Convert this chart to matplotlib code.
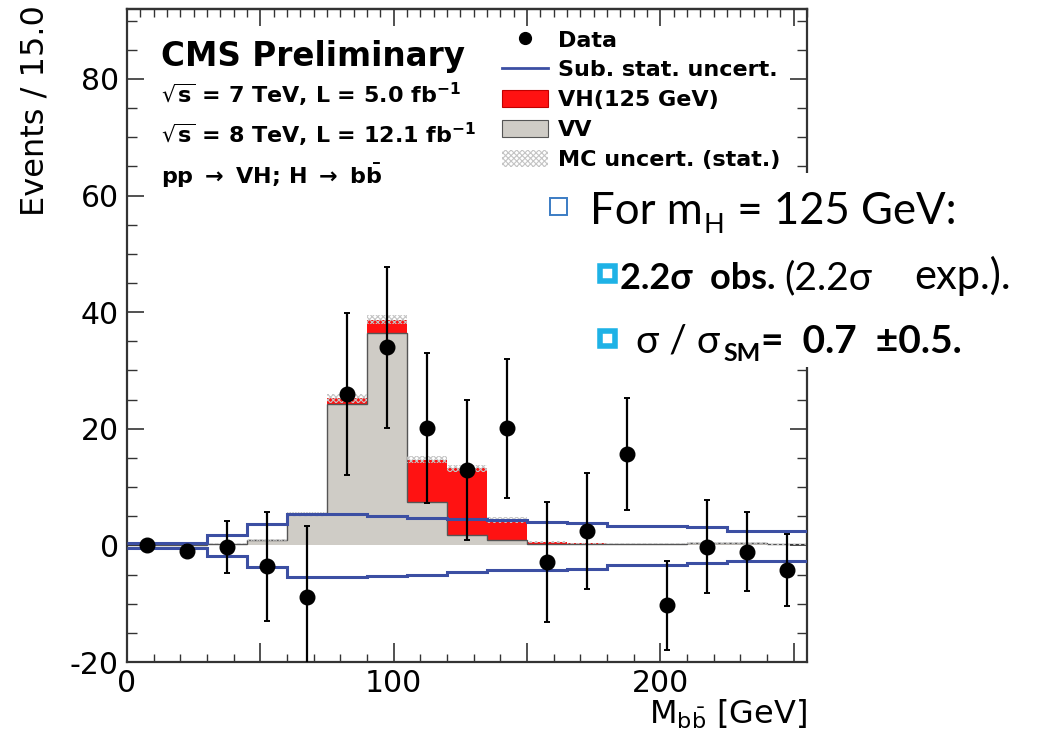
import numpy as np
import matplotlib
matplotlib.use("Agg")
import matplotlib.pyplot as plt
from matplotlib.patches import Rectangle, Patch
from matplotlib.lines import Line2D
from matplotlib.ticker import MultipleLocator, FuncFormatter

# ---------------- data ----------------
bin_edges = [0, 15, 30, 45, 60, 75, 90, 105, 120, 135, 150, 165, 180, 195, 210, 225, 240, 255]
data_vals = [0.0, -0.9, -0.3, -3.6, -8.9, 25.9, 34.0, 20.1, 12.9, 20.1, -2.9, 2.5, 15.7, -10.3, -0.2, -1.1, -4.2]
data_errs = [0.9, 0.9, 4.5, 9.3, 12.3, 13.9, 13.8, 12.9, 12.0, 11.9, 10.3, 10.0, 9.6, 7.7, 8.0, 6.8, 6.2]
vv_vals = [0.0, 0.0, 0.3, 0.9, 5.3, 24.3, 36.4, 7.4, 1.7, 0.9, 0.3, 0.3, 0.3, 0.3, 0.4, 0.4, 0.2]
vh_vals = [0.0, 0.0, 0.0, 0.0, 0.0, 0.9, 2.3, 7.3, 11.5, 3.4, 0.3, 0.05, 0.0, 0.0, 0.0, 0.0, 0.0]
mc_unc = [0.0, 0.0, 0.1, 0.2, 0.4, 0.7, 0.8, 0.6, 0.6, 0.5, 0.2, 0.1, 0.1, 0.1, 0.1, 0.1, 0.1]
sub_up = [0.4, 0.4, 1.8, 3.6, 5.4, 5.4, 5.1, 4.7, 4.5, 4.3, 4.0, 3.8, 3.3, 3.3, 3.1, 2.5, 2.5]
sub_dn = [-0.4, -0.4, -1.9, -3.7, -5.4, -5.4, -5.3, -5.0, -4.6, -4.3, -4.3, -4.0, -3.4, -3.4, -3.0, -2.6, -2.6]

legend_labels = ["Data", "Sub. stat. uncert.", "VH(125 GeV)", "VV", "MC uncert. (stat.)"]
y_ticks_major = 20

# ---------------- style ----------------
plt.rcParams["font.family"] = ["DejaVu Sans"]
plt.rcParams["mathtext.default"] = "regular"
plt.rcParams["mathtext.fontset"] = "dejavusans"
plt.rcParams["hatch.color"] = "#c4c4c4"
plt.rcParams["hatch.linewidth"] = 0.8

W, H = 1060, 749
fig = plt.figure(figsize=(W / 100, H / 100), dpi=100)
fig.patch.set_facecolor("white")

def fx(px):
    return px / W

def fy(py):
    return 1 - py / H

BLUE = "#3c4fa3"
RED = "#ff1212"
GRAY = "#cfccc6"

ax = fig.add_axes([fx(127), fy(662), fx(807) - fx(127), fy(9) - fy(662)])

edges = np.array(bin_edges, dtype=float)
vv = np.array(vv_vals)
vh = np.array(vh_vals)
total = vv + vh
mc = np.array(mc_unc)
centers = 0.5 * (edges[:-1] + edges[1:])

ax.stairs(vv, edges, baseline=0, fill=True, facecolor=GRAY, edgecolor="none", zorder=1)
ax.stairs(total, edges, baseline=vv, fill=True, facecolor=RED, edgecolor="none", zorder=1.2)
ax.stairs(vv, edges, baseline=0, fill=False, edgecolor="#555555", linewidth=1.0, zorder=1.5)
ax.stairs(total + mc, edges, baseline=total - mc, fill=True, facecolor="none",
          edgecolor="#c4c4c4", hatch="xxxxxx", linewidth=0, zorder=1.6)

ax.stairs(sub_up, edges, baseline=None, color=BLUE, linewidth=2.2, zorder=3)
ax.stairs(sub_dn, edges, baseline=None, color=BLUE, linewidth=2.2, zorder=3)

ax.errorbar(centers, data_vals, yerr=data_errs, fmt="o", color="black", ms=10.5,
            elinewidth=1.6, capsize=2.2, capthick=1.4, zorder=4)

ax.set_xlim(0, 255)
ax.set_ylim(-20, 92)

ax.yaxis.set_major_locator(MultipleLocator(y_ticks_major))
ax.yaxis.set_minor_locator(MultipleLocator(5))
ax.xaxis.set_major_locator(MultipleLocator(50))
ax.xaxis.set_minor_locator(MultipleLocator(10))
ax.xaxis.set_major_formatter(FuncFormatter(lambda v, p: f"{int(round(v))}" if round(v) % 100 == 0 else ""))
ax.yaxis.set_major_formatter(FuncFormatter(lambda v, p: f"{int(round(v))}"))

ax.tick_params(axis="both", which="both", direction="in", top=False, right=True, colors="#333333")
ax.tick_params(axis="x", which="major", length=13.5, width=1.2, labelsize=21.5, pad=5, labelcolor="black")
ax.tick_params(axis="x", which="minor", length=6, width=1.0)
ax.tick_params(axis="y", which="major", length=12, width=1.2, labelsize=21.5, pad=6, labelcolor="black")
ax.tick_params(axis="y", which="minor", length=7, width=1.0)
for sp in ax.spines.values():
    sp.set_linewidth(1.6)
    sp.set_color("#333333")

sec = ax.secondary_xaxis("top")
sec.xaxis.set_major_locator(MultipleLocator(50))
sec.xaxis.set_minor_locator(MultipleLocator(5))
sec.tick_params(which="both", direction="in", labeltop=False, colors="#333333")
sec.tick_params(which="major", length=12, width=1.2)
sec.tick_params(which="minor", length=6, width=1.0)
sec.spines["top"].set_linewidth(1.6)
sec.spines["top"].set_color("#333333")

ax.set_ylabel("Events / 15.0", fontsize=23, loc="top")
ax.yaxis.set_label_coords(-0.113, 1.006)
ax.set_xlabel(r"M$_{b\bar{b}}$ [GeV]", fontsize=23, loc="right")
ax.xaxis.set_label_coords(1.0, -0.055)

# legend
handles = [
    Line2D([], [], marker="o", ls="none", color="black", ms=8.5),
    Line2D([], [], color=BLUE, lw=2.0),
    Patch(facecolor=RED, edgecolor="#c00000", lw=0.8),
    Patch(facecolor=GRAY, edgecolor="#555555", lw=0.8),
    Patch(facecolor="white", edgecolor="#c4c4c4", hatch="xxxxxx", lw=0),
]
ax.legend(handles, legend_labels, loc="upper left", bbox_to_anchor=(fx(502), fy(30)),
          bbox_transform=fig.transFigure, frameon=False,
          prop=dict(family="DejaVu Sans", weight="bold", size=16),
          handlelength=2.05, handleheight=0.85, handletextpad=0.45,
          labelspacing=0.42, borderpad=0, borderaxespad=0)

# CMS annotations
fig.text(fx(161), fy(66), "CMS Preliminary", fontsize=23.5, weight="bold", va="baseline")
fig.text(fx(161), fy(103), r"$\sqrt{\mathbf{s}}$ = 7 TeV, L = 5.0 fb$^{\mathbf{-1}}$",
         fontsize=16, weight="bold", va="baseline")
fig.text(fx(161), fy(143), r"$\sqrt{\mathbf{s}}$ = 8 TeV, L = 12.1 fb$^{\mathbf{-1}}$",
         fontsize=16, weight="bold", va="baseline")
fig.text(fx(161), fy(184), r"pp $\rightarrow$ VH; H $\rightarrow$ b$\bar{\mathbf{b}}$",
         fontsize=16, weight="bold", va="baseline")

# ---------------- slide overlay ----------------
fig.add_artist(Rectangle((fx(540), fy(367)), fx(1060) - fx(540), fy(173) - fy(367),
                         transform=fig.transFigure, facecolor="white", edgecolor="none", zorder=9))

renderer = fig.canvas.get_renderer()
SF = ["Lato", "DejaVu Sans"]

def put(x, y, s, **kw):
    t = fig.text(fx(x), fy(y), s, va="baseline", ha="left", zorder=10, family=SF, **kw)
    bb = t.get_window_extent(renderer)
    return bb.x1

def square(x0, y0, size, edge, lw, face="white"):
    fig.add_artist(Rectangle((fx(x0), fy(y0 + size)), size / W, size / H,
                             transform=fig.transFigure, facecolor=face,
                             edgecolor=edge, linewidth=lw, zorder=10))

S1 = 31.5
S2 = 26
square(550, 198, 17, "#3b7cc4", 1.4)
x = put(590, 224, "For m", fontsize=S1)
x = put(x + 1, 233, "H", fontsize=S1 * 0.62)
x = put(x + 1, 224, " = 125 GeV:", fontsize=S1)

square(600, 266, 15, "#1eb2e6", 4.0)
x = put(620, 289, "2.2σ  obs.", fontsize=S2, weight="bold")
x = put(x + 9, 289, "(2.2σ", fontsize=28)
x = put(x + 42, 289, "exp.).", fontsize=30)

square(600, 331, 15, "#1eb2e6", 4.0)
x = put(636, 353, "σ / σ", fontsize=28)
x = put(x + 3, 361, "SM", fontsize=18, weight="bold")
x = put(x + 1, 353, "=  0.7  ±0.5.", fontsize=28, weight="bold")

fig.savefig("out.png", dpi=100, facecolor="white")
